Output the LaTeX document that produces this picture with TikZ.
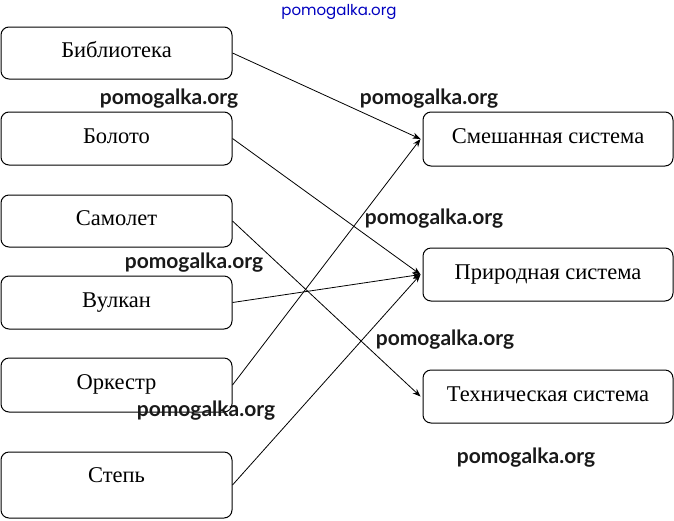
\documentclass[tikz,border=0pt]{standalone}
\usepackage{fontspec}
\setmainfont{Liberation Serif}
\newfontfamily\wmfont{Lato}
\newfontfamily\topfont{Poppins}
\usetikzlibrary{arrows.meta}
\begin{document}
\begin{tikzpicture}[x=1pt,y=-1pt,>={Stealth[length=8pt,width=6pt]},
	box/.style={draw,line width=1pt,rounded corners=8pt,inner sep=0pt,
		font=\fontsize{22.5}{26}\selectfont,text height=15pt,text depth=5.5pt},
	lbox/.style={box,minimum width=231pt},
	rbox/.style={box,minimum width=250pt},
	link/.style={->,line width=0.8pt},
	wm/.style={font=\wmfont\bfseries\fontsize{21}{24}\selectfont,text=black!90}]
	\useasboundingbox (0,0) rectangle (674,520);
	% left column
	\node[lbox,minimum height=52pt] (bib) at (116.5,53) {Библиотека};
	\node[lbox,minimum height=53pt] (bol) at (116.5,138.5) {Болото};
	\node[lbox,minimum height=52pt] (sam) at (116.5,221) {Самолет};
	\node[lbox,minimum height=53pt] (vul) at (116.5,302.5) {Вулкан};
	\node[lbox,minimum height=54pt] (ork) at (116.5,385) {Оркестр};
	\node[lbox,minimum height=66pt,text depth=20pt] (stp) at (116.5,485) {Степь};
	% right column
	\node[rbox,minimum height=54pt] (mix) at (548,139) {Смешанная система};
	\node[rbox,minimum height=53pt] (nat) at (548,274.5) {Природная система};
	\node[rbox,minimum height=53pt] (tech) at (548,396.5) {Техническая система};
	% connections
	\foreach \a/\b in {bib/mix,bol/nat,sam/tech,vul/nat,ork/mix,stp/nat}
		\draw[link] (\a.east) -- ([xshift=-2pt]\b.west);
	% watermarks
	\foreach \px/\py [count=\i] in {169/99,429/99,434/219,194/263,445/340,206/411,526/458}
		\node[wm] (wm\i) at (\px,\py) {pomogalka.org};
	\node[font=\topfont\fontsize{15}{18}\selectfont,text=blue!75!black] (wmtop) at (339,12) {pomogalka.org};
\end{tikzpicture}
\end{document}
